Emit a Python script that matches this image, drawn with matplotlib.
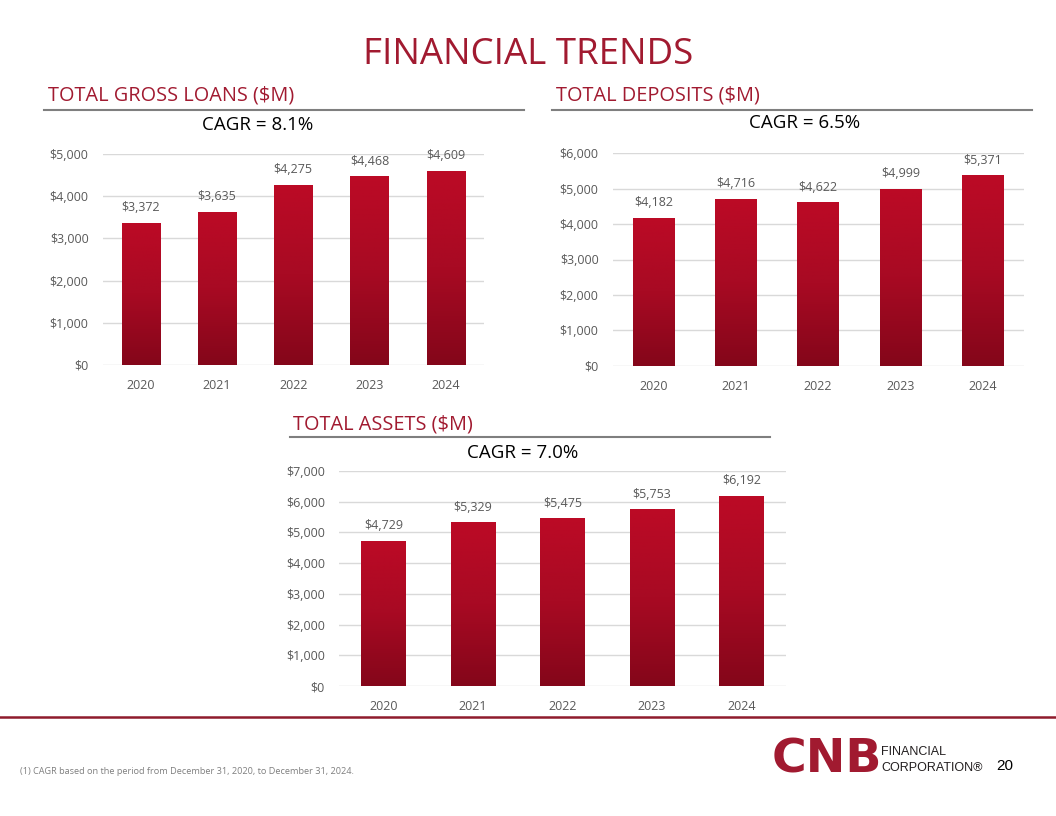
import matplotlib
matplotlib.use("Agg")
import matplotlib.pyplot as plt
import numpy as np
from matplotlib.colors import LinearSegmentedColormap
from matplotlib.ticker import FuncFormatter, MultipleLocator

years = ["2020", "2021", "2022", "2023", "2024"]
loans = [3372, 3635, 4275, 4468, 4609]
deposits = [4182, 4716, 4622, 4999, 5371]
assets = [4729, 5329, 5475, 5753, 6192]

titles = ["TOTAL GROSS LOANS ($M)", "TOTAL DEPOSITS ($M)", "TOTAL ASSETS ($M)"]
cagrs = ["CAGR = 8.1%", "CAGR = 6.5%", "CAGR = 7.0%"]
ymaxes = [5000, 6000, 7000]

RED = "#A11A30"
GREY_TXT = "#595959"
GRID = "#D9D9D9"
BODY = ["Open Sans", "DejaVu Sans"]

W, H = 1056, 816
fig = plt.figure(figsize=(W / 100, H / 100), dpi=100)
fig.patch.set_facecolor("white")

cmap = LinearSegmentedColormap.from_list("bar", ["#BC0A26", "#A80A23", "#84061A"])
grad = np.linspace(0, 1, 256).reshape(-1, 1)


def fx(px):
    return px / W


def fy(py):
    return 1 - py / H


def chart(rect, values, ymax):
    ax = fig.add_axes(rect)
    x = np.arange(len(years))
    bars = ax.bar(x, values, width=0.5, color="none", edgecolor="none", zorder=3)
    for b in bars:
        x0, w, h = b.get_x(), b.get_width(), b.get_height()
        im = ax.imshow(grad, cmap=cmap, aspect="auto", extent=(x0, x0 + w, 0, h),
                       zorder=3, interpolation="bilinear")
        im.set_clip_path(b)
        ax.annotate(f"${h:,.0f}", (x0 + w / 2, h), xytext=(0, 6),
                    textcoords="offset points", ha="center", va="bottom",
                    fontsize=9, color=GREY_TXT, family=BODY)
    ax.set_xlim(-0.5, len(years) - 0.5)
    ax.set_ylim(0, ymax)
    ax.yaxis.set_major_locator(MultipleLocator(1000))
    ax.yaxis.set_major_formatter(FuncFormatter(lambda v, p: f"${v:,.0f}"))
    ax.set_xticks(x)
    ax.set_xticklabels(years)
    ax.grid(axis="y", color=GRID, linewidth=1, zorder=0)
    ax.set_axisbelow(True)
    for s in ax.spines.values():
        s.set_visible(False)
    ax.tick_params(length=0, labelsize=9, labelcolor=GREY_TXT)
    ax.tick_params(axis="y", pad=10)
    ax.tick_params(axis="x", pad=10)
    for lab in ax.get_xticklabels() + ax.get_yticklabels():
        lab.set_family(BODY)
    return ax


chart([fx(102.5), fy(365), fx(484 - 102.5), (365 - 154) / H], loans, ymaxes[0])
chart([fx(612.5), fy(366), fx(1023.6 - 612.5), (366 - 153) / H], deposits, ymaxes[1])
chart([fx(338.75), fy(686), fx(786.25 - 338.75), (686 - 471) / H], assets, ymaxes[2])

# Main title
fig.text(0.5, fy(55), "FINANCIAL TRENDS", ha="center", va="center", color=RED,
         fontsize=26.4, family=BODY)

# Section headings with rules
heads = [(48, 95, 44, 524, 110, 258, 125),
         (556, 95, 552, 1032, 110, 805, 123),
         (293, 424, 290, 770, 437, 523, 453)]
for (tx, ty, l0, l1, ly, cx, cy), t, c in zip(heads, titles, cagrs):
    fig.text(fx(tx), fy(ty), t, ha="left", va="center", color=RED, fontsize=14.3,
             family=BODY)
    fig.add_artist(plt.Line2D([fx(l0), fx(l1)], [fy(ly), fy(ly)], color="#7F7F7F",
                              linewidth=1.5))
    fig.text(fx(cx), fy(cy), c, ha="center", va="center", color="black",
             fontsize=13.5, family=BODY)

# Bottom rule
fig.add_artist(plt.Line2D([0, 1], [fy(717), fy(717)], color="#8E1B2C", linewidth=1.8))

# Footnote
fig.text(fx(20), fy(771), "(1) CAGR based on the period from December 31, 2020, to December 31, 2024.",
         ha="left", va="center", color="#7F7F7F", fontsize=6.6, family=BODY)

# Page number
fig.text(fx(1005), fy(766), "20", ha="center", va="center", color="black",
         fontsize=11, family=["Liberation Sans", "DejaVu Sans"])

# Logo
fig.text(fx(772), fy(760), "CNB", ha="left", va="center", color=RED,
         fontsize=34, fontweight="heavy", family=["DejaVu Sans"])
fig.text(fx(881), fy(752), "FINANCIAL", ha="left", va="center", color="#231F20",
         fontsize=9, family=["Liberation Sans", "DejaVu Sans"])
fig.text(fx(881), fy(768), "CORPORATION\u00ae", ha="left", va="center", color="#231F20",
         fontsize=9, family=["Liberation Sans", "DejaVu Sans"])

fig.savefig("out.png", dpi=100, facecolor="white")
